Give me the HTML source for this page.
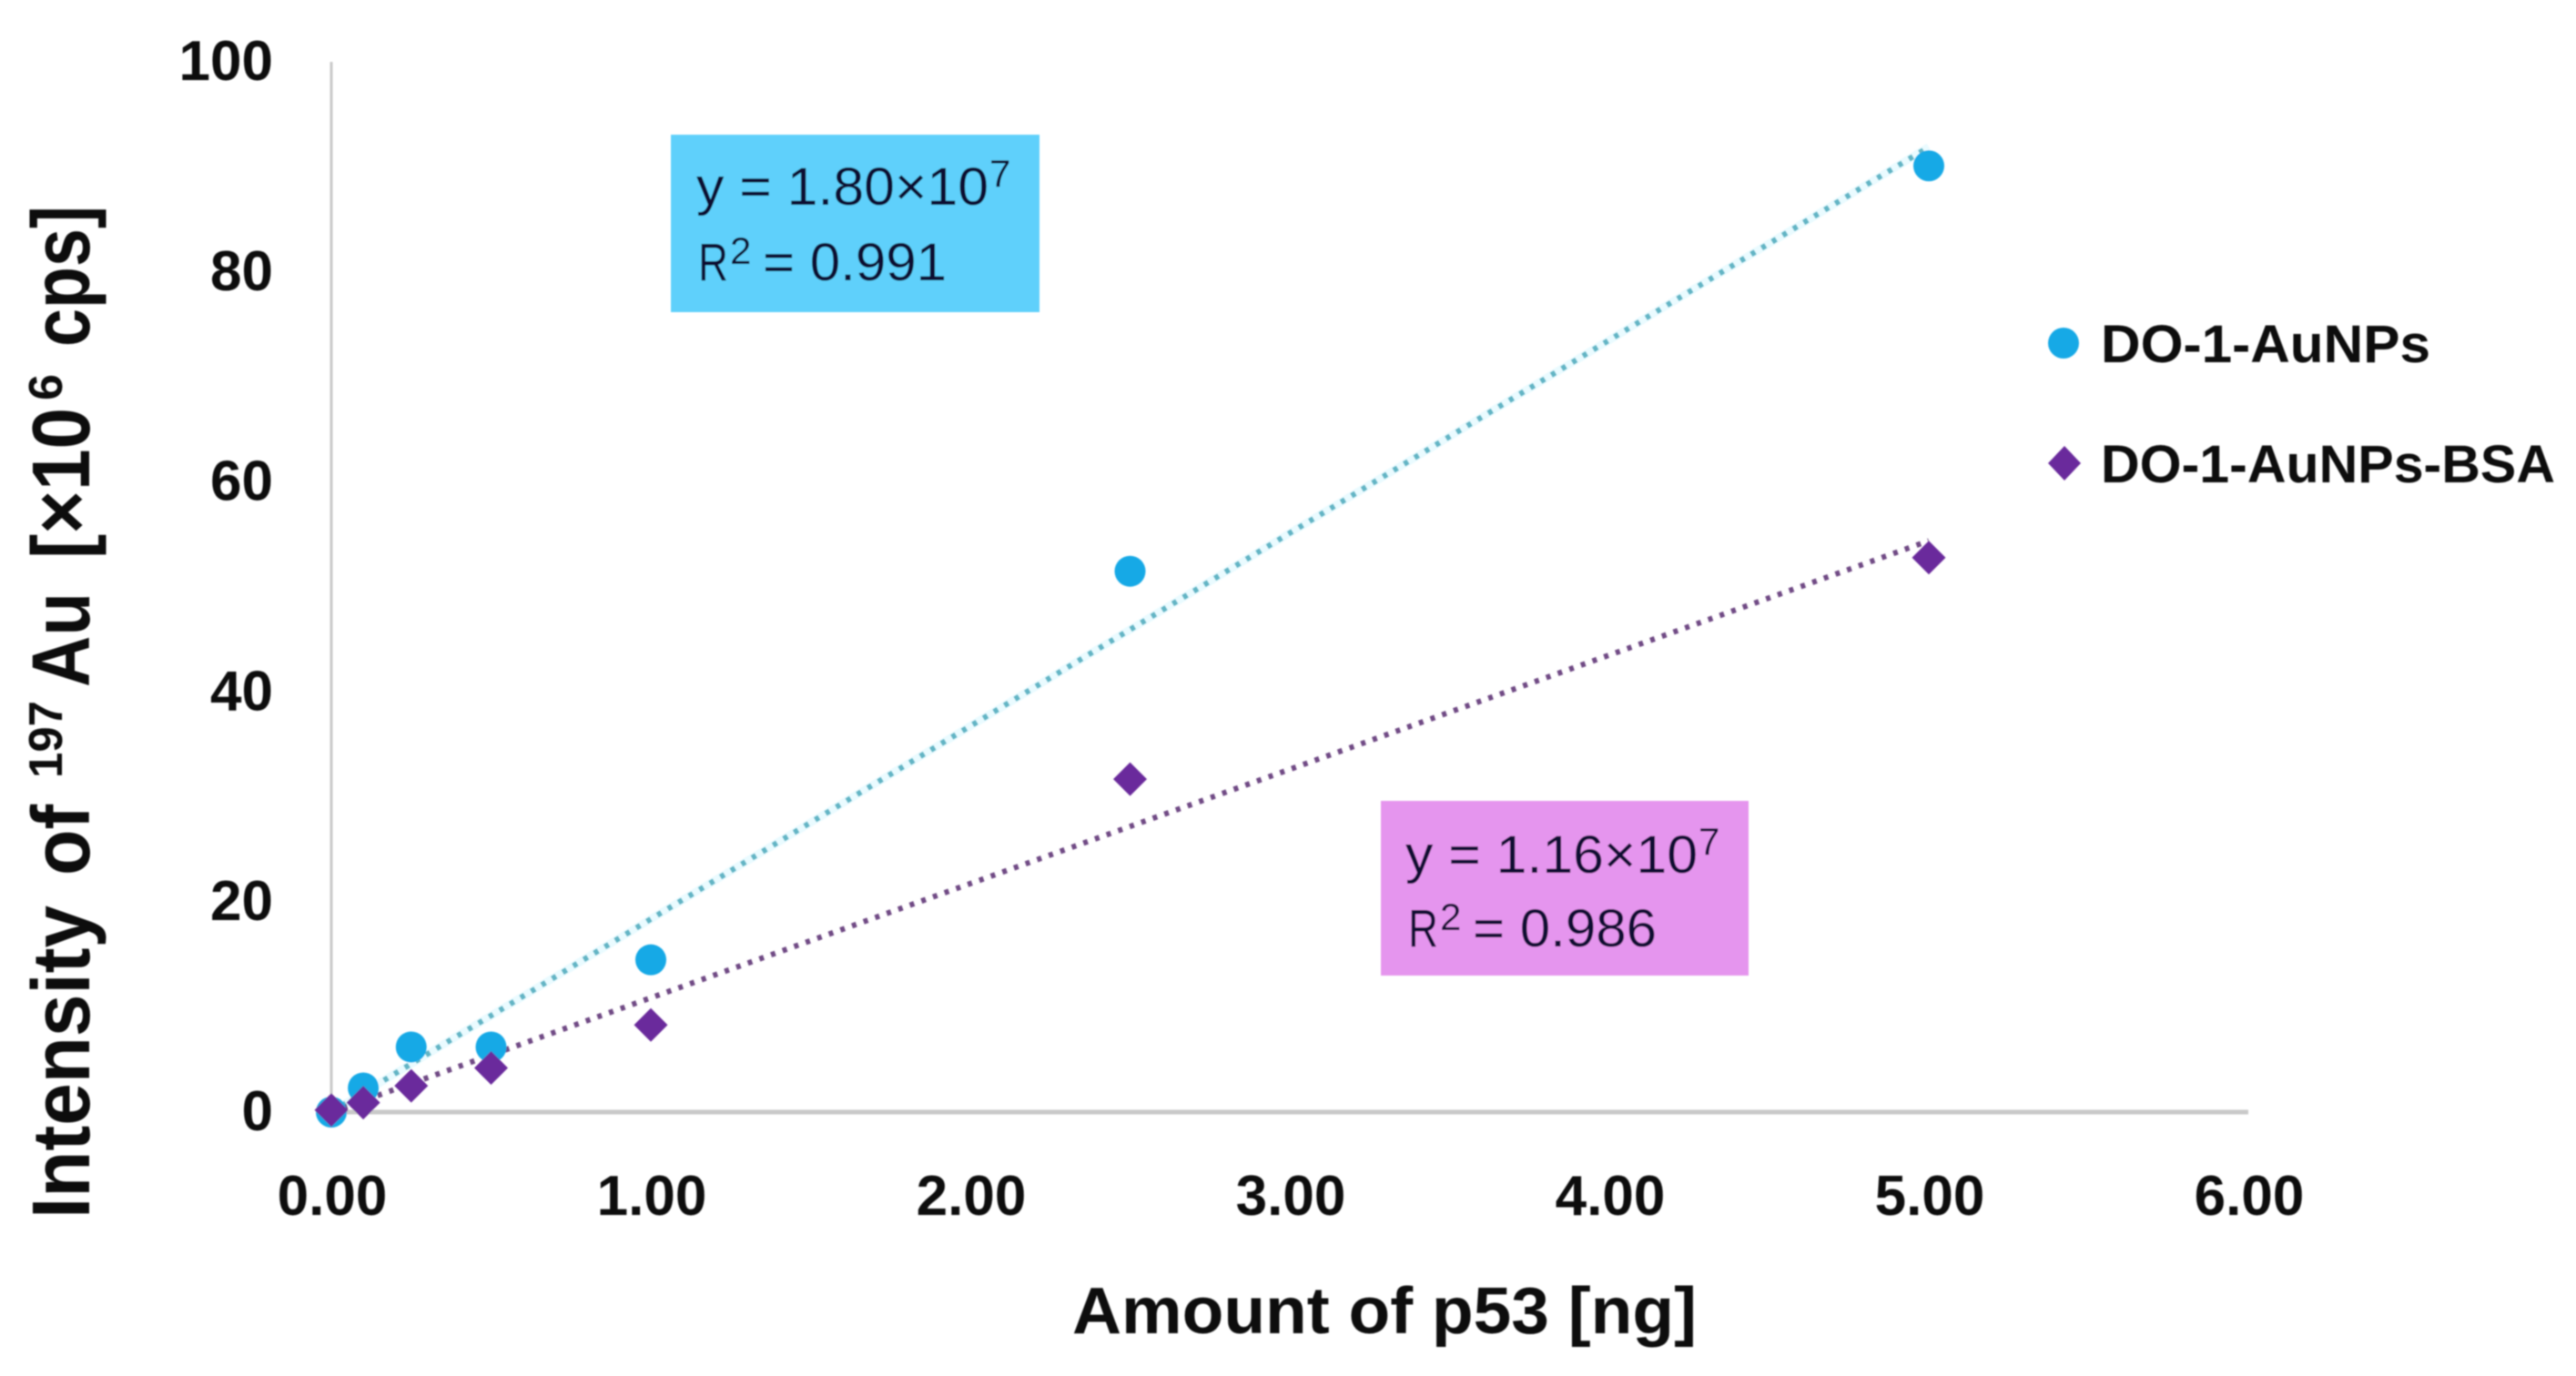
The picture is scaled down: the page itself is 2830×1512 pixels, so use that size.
<!DOCTYPE html>
<html lang="en">
<head>
<meta charset="utf-8">
<title>Intensity of 197Au vs amount of p53</title>
<style>
html,body{margin:0;padding:0;background:#fff;width:2830px;height:1512px;overflow:hidden}
svg{display:block}
text{font-family:"Liberation Sans",sans-serif}
.tick{font-weight:700;font-size:62px;fill:#111}
.title{font-weight:700;fill:#111}
.box-text{font-size:58px;fill:#101030}
.box-sup{font-size:42px;fill:#101030}
.legend-text{font-weight:700;font-size:58px;fill:#111}
</style>
</head>
<body>
<svg id="chart" xmlns="http://www.w3.org/2000/svg" width="2830" height="1512" viewBox="0 0 2830 1512">
  <defs>
    <filter id="soft" x="-5%" y="-5%" width="110%" height="110%"><feGaussianBlur stdDeviation="0.9"/></filter>
  </defs>
  <rect x="0" y="0" width="2830" height="1512" fill="#ffffff"/>
  <g id="root" filter="url(#soft)">
    <rect x="737" y="148" width="405" height="195" fill="#5fd0fb"/>
    <rect x="1517" y="880" width="404" height="192" fill="#e595ee"/>

    <g id="axes"></g>
    <g id="ticks"></g>
    <g id="trends"></g>
    <g id="marks"></g>

    <text class="box-text" x="765" y="225" textLength="321" lengthAdjust="spacingAndGlyphs">y = 1.80×10</text>
    <text class="box-sup" x="1087" y="205">7</text>
    <text class="box-text" x="767" y="308" textLength="33" lengthAdjust="spacingAndGlyphs">R</text>
    <text class="box-sup" x="802" y="290">2</text>
    <text class="box-text" x="838" y="308" textLength="202" lengthAdjust="spacingAndGlyphs">= 0.991</text>

    <text class="box-text" x="1544" y="959" textLength="321" lengthAdjust="spacingAndGlyphs">y = 1.16×10</text>
    <text class="box-sup" x="1866" y="939">7</text>
    <text class="box-text" x="1547" y="1040" textLength="33" lengthAdjust="spacingAndGlyphs">R</text>
    <text class="box-sup" x="1582" y="1022">2</text>
    <text class="box-text" x="1618" y="1040" textLength="202" lengthAdjust="spacingAndGlyphs">= 0.986</text>

    <text class="title" x="1178" y="1465" style="font-size:72px" textLength="686" lengthAdjust="spacingAndGlyphs">Amount of p53 [ng]</text>
    <text class="title" transform="translate(98,1341) rotate(-90)" y="0" style="font-size:90px"><tspan x="2" textLength="344" lengthAdjust="spacingAndGlyphs">Intensity</tspan> <tspan x="379" textLength="78" lengthAdjust="spacingAndGlyphs">of</tspan> <tspan x="486" dy="-30" style="font-size:52px" textLength="85" lengthAdjust="spacingAndGlyphs">197</tspan><tspan x="586" dy="30" textLength="104" lengthAdjust="spacingAndGlyphs">Au</tspan> <tspan x="727" textLength="166" lengthAdjust="spacingAndGlyphs">[×10</tspan><tspan x="901" dy="-30" style="font-size:52px" textLength="29" lengthAdjust="spacingAndGlyphs">6</tspan> <tspan x="960" dy="30" textLength="155" lengthAdjust="spacingAndGlyphs">cps]</tspan></text>

    <g>
      <circle cx="2267" cy="377" r="17" fill="#12a9e6"/>
      <text class="legend-text" x="2308" y="398" textLength="362" lengthAdjust="spacingAndGlyphs">DO-1-AuNPs</text>
      <polygon points="2268,490 2286,509 2268,528 2250,509" fill="#6a2c9c"/>
      <text class="legend-text" x="2308" y="530" textLength="499" lengthAdjust="spacingAndGlyphs">DO-1-AuNPs-BSA</text>
    </g>
  </g>
</svg>
<script>
const amounts = [0, 0.1, 0.25, 0.5, 1, 2.5, 5];
const intensityAuNPs = [0, 2.3, 6.2, 6.2, 14.5, 51.5, 90.1];
const intensityAuNPsBSA = [0.2, 0.9, 2.5, 4.2, 8.3, 31.7, 52.8];
const xTickValues = [0, 1, 2, 3, 4, 5, 6];
const yTickValues = [0, 20, 40, 60, 80, 100];

const NS = 'http://www.w3.org/2000/svg';
const xScale = function (v) { return 364 + 351 * v; };
const yScale = function (v) { return 1222 - 11.54 * v; };

function make(tag, attrs, parent) {
  const el = document.createElementNS(NS, tag);
  Object.keys(attrs).forEach(function (k) { el.setAttribute(k, attrs[k]); });
  parent.appendChild(el);
  return el;
}

function fitSlope(xs, ys) {
  let sxy = 0, sxx = 0;
  xs.forEach(function (x, i) { sxy += x * ys[i]; sxx += x * x; });
  return sxy / sxx;
}

const axes = document.getElementById('axes');
const ticks = document.getElementById('ticks');
const trends = document.getElementById('trends');
const marks = document.getElementById('marks');

const xAxis = make('line', {x1: xScale(0), y1: yScale(0), x2: xScale(6), y2: yScale(0), stroke: '#c9c9c9', 'stroke-width': 5}, axes);


const yAxis = make('line', {x1: xScale(0), y1: yScale(0), x2: xScale(0), y2: yScale(100), stroke: '#c9c9c9', 'stroke-width': 3}, axes);



xTickValues.forEach(function (v) {
  const t = make('text', {class: 'tick', x: xScale(v) + 1, y: 1335, 'text-anchor': 'middle'}, ticks);
  
  
  t.textContent = v.toFixed(2);
});
yTickValues.forEach(function (v) {
  const t = make('text', {class: 'tick', x: 300, y: yScale(v) + 20, 'text-anchor': 'end'}, ticks);
  
  
  t.textContent = String(v);
});

function drawTrend(ys, colour, halo, name) {
  const slope = fitSlope(amounts, ys);
  const xEnd = amounts[amounts.length - 1];
  if (halo) {
    const h = make('line', {x1: xScale(0), y1: yScale(0), x2: xScale(xEnd), y2: yScale(slope * xEnd), stroke: halo, 'stroke-width': 9, opacity: 0.3}, trends);
    
    
  }
  const l = make('line', {x1: xScale(0), y1: yScale(0), x2: xScale(xEnd), y2: yScale(slope * xEnd), stroke: colour, 'stroke-width': 6, 'stroke-dasharray': '5 8.5'}, trends);
  
  
}
drawTrend(intensityAuNPs, '#62b4c4', '#b8f0ff', 'trendline-do-1-aunps');
drawTrend(intensityAuNPsBSA, '#6f4a84', null, 'trendline-do-1-aunps-bsa');

intensityAuNPs.forEach(function (v, i) {
  const c = make('circle', {cx: xScale(amounts[i]), cy: yScale(v), r: 17, fill: '#12a9e6'}, marks);
  
  
});
intensityAuNPsBSA.forEach(function (v, i) {
  const cx = xScale(amounts[i]), cy = yScale(v), d = 18.5;
  const p = make('polygon', {points: [cx, cy - d, cx + d, cy, cx, cy + d, cx - d, cy].join(' '), fill: '#6a2c9c'}, marks);
  
  
});
</script>
</body>
</html>
